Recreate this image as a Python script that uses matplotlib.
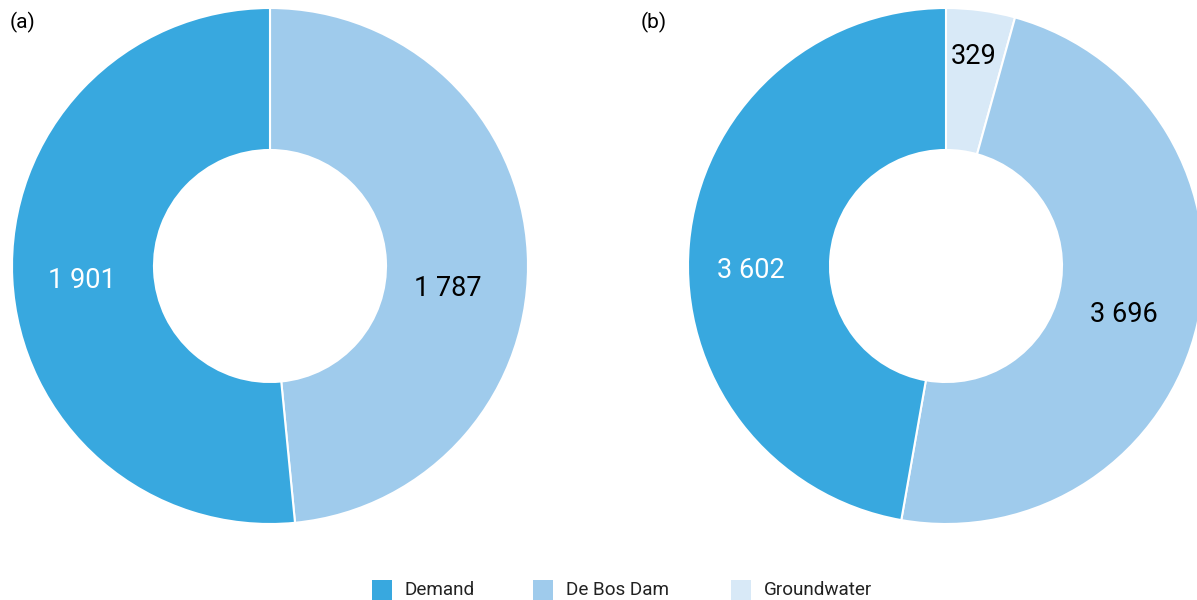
import matplotlib
matplotlib.use("Agg")
import matplotlib.pyplot as plt
from matplotlib.patches import Rectangle

plt.rcParams['font.family'] = ['Roboto', 'DejaVu Sans']

# ---- data ----
categories = ["Demand", "De Bos Dam", "Groundwater"]
colors = ["#38A8DF", "#9FCBEC", "#D8E9F7"]
label_colors = ["white", "black", "black"]

# chart (a): clockwise from top
a_names = ["De Bos Dam", "Demand"]
a_values = [1787, 1901]
a_labels = ["1 787", "1 901"]

# chart (b): clockwise from top
b_names = ["Groundwater", "De Bos Dam", "Demand"]
b_values = [329, 3696, 3602]
b_labels = ["329", "3 696", "3 602"]

# ---- layout (pixel coordinates, y measured from top) ----
W, H = 1197, 600
R_OUT, R_IN = 258, 116
a_center = (270, 266)
b_center = (946, 266)
a_label_pos = [(448, 289), (82, 280)]
b_label_pos = [(974, 56), (1124, 314), (751, 270)]

fig = plt.figure(figsize=(W / 100, H / 100), dpi=100)
ax = fig.add_axes([0, 0, 1, 1])


def color_of(name):
    return colors[categories.index(name)]


def draw(names, values, labels, center, label_pos):
    cx, cy = center
    ax.pie(values, colors=[color_of(n) for n in names], startangle=90,
           counterclock=False, center=(cx, H - cy), radius=R_OUT,
           wedgeprops=dict(width=R_OUT - R_IN, edgecolor="white", linewidth=1.5))
    for n, lab, (px, py) in zip(names, labels, label_pos):
        tc = label_colors[categories.index(n)]
        ax.text(px, H - py, lab, color=tc, fontsize=19.5, ha="center", va="center")


draw(a_names, a_values, a_labels, a_center, a_label_pos)
draw(b_names, b_values, b_labels, b_center, b_label_pos)

ax.set_xlim(0, W)
ax.set_ylim(0, H)
ax.set_aspect("equal")
ax.axis("off")

ax.text(10, H - 22, "(a)", fontsize=15, ha="left", va="center")
ax.text(641, H - 22, "(b)", fontsize=15, ha="left", va="center")

# legend
leg_x = [372, 533, 731]
for cat, col, x in zip(categories, colors, leg_x):
    ax.add_patch(Rectangle((x, H - 600), 20, 20, facecolor=col, edgecolor="none"))
    ax.text(x + 33, H - 590, cat, fontsize=13.6, ha="left", va="center", color="#222222")

fig.savefig("out.png", dpi=100)
